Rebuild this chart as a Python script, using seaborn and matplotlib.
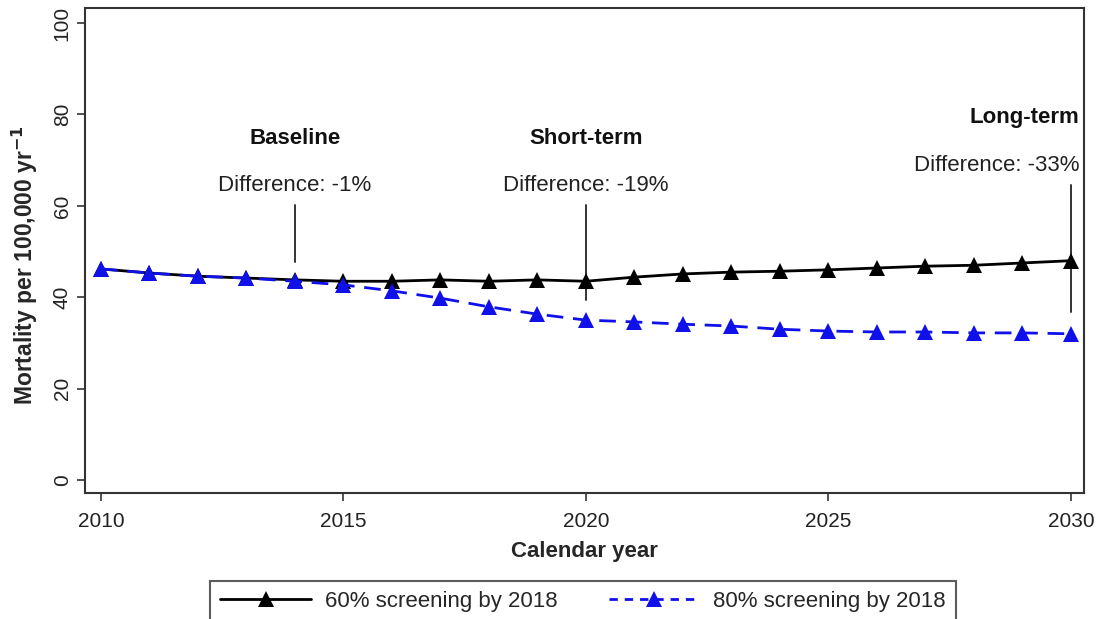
import matplotlib
matplotlib.use("Agg")
import matplotlib.pyplot as plt
import numpy as np
import pandas as pd
import seaborn as sns

years = list(range(2010, 2031))
screen_60 = [46.2, 45.3, 44.6, 44.2, 43.8, 43.5, 43.5, 43.8, 43.5, 43.8, 43.5,
             44.4, 45.1, 45.5, 45.7, 46.0, 46.4, 46.8, 47.0, 47.5, 48.0]
screen_80 = [46.2, 45.3, 44.6, 44.2, 43.5, 42.7, 41.4, 39.8, 37.9, 36.3, 35.0,
             34.6, 34.1, 33.7, 33.0, 32.6, 32.4, 32.4, 32.2, 32.2, 32.0]
series_names = ["60% screening by 2018", "80% screening by 2018"]
series_colors = ["black", "#1010e8"]

phase_titles = ["Baseline", "Short-term", "Long-term"]
phase_years = [2014, 2020, 2030]
phase_diffs = ["Difference: -1%", "Difference: -19%", "Difference: -33%"]

sns.set_theme(style="ticks")
plt.rcParams["font.family"] = ["Liberation Sans", "DejaVu Sans"]

df = pd.DataFrame({
    "year": years * 2,
    "mortality": screen_60 + screen_80,
    "scenario": [series_names[0]] * len(years) + [series_names[1]] * len(years),
})

fig = plt.figure(figsize=(10.98, 6.19), dpi=100)
ax = fig.add_axes([85 / 1098, 1 - 493 / 619, (1084 - 85) / 1098, (493 - 8) / 619])

sns.lineplot(data=df, x="year", y="mortality", hue="scenario", style="scenario",
             palette=series_colors, dashes=[(None, None), (6, 3.5)],
             markers=["^", "^"], markersize=11, markeredgewidth=0,
             linewidth=2, ax=ax, legend=False, zorder=3)

ax.set_xlim(2009.67, 2030.27)
ax.set_ylim(-2.84, 103.3)
ax.set_xticks([2010, 2015, 2020, 2025, 2030])
ax.set_yticks([0, 20, 40, 60, 80, 100])
ax.tick_params(axis="both", length=6, width=1.2, color="#333333",
               labelsize=15, labelcolor="#222222")
ax.tick_params(axis="x", pad=8)
for lbl in ax.get_yticklabels():
    lbl.set_rotation(90)
    lbl.set_va("center")
for sp in ax.spines.values():
    sp.set_visible(True)
    sp.set_color("#333333")
    sp.set_linewidth(1.5)

ax.set_xlabel("Calendar year", fontsize=16, fontweight="bold", labelpad=7)
ax.set_ylabel("Mortality per 100,000 yr$^{\\mathbf{-1}}$", fontsize=16.5,
              fontweight="bold")
ax.yaxis.set_label_coords(-0.045, 0.47)

# Phase annotations: bold title, difference text and a pointer line
title_pos = [(2014, 74.8), (2020, 74.8), (2029.05, 79.3)]
diff_pos = [(2014, 64.5), (2020, 64.5), (2028.47, 68.8)]
line_spans = [(60.2, 47.7), (60.2, 39.5), (64.5, 36.8)]
for t, yr, d, tp, dp, ls in zip(phase_titles, phase_years, phase_diffs,
                                title_pos, diff_pos, line_spans):
    ax.text(tp[0], tp[1], t, ha="center", va="center", fontsize=16,
            fontweight="bold", color="#111111")
    ax.text(dp[0], dp[1], d, ha="center", va="center", fontsize=16,
            color="#222222")
    ax.plot([yr, yr], [ls[0], ls[1]], color="#333333", linewidth=1.4, zorder=2)

handles = [
    plt.Line2D([], [], color=series_colors[0], linestyle="-", linewidth=2,
               marker="^", markersize=11, markeredgewidth=0),
    plt.Line2D([], [], color=series_colors[1], linestyle=(0, (3, 2.5)), linewidth=2,
               marker="^", markersize=11, markeredgewidth=0),
]
leg = fig.legend(handles, series_names, loc="center", ncol=2,
                 bbox_to_anchor=(583 / 1098, 1 - 601 / 619), frameon=True,
                 fancybox=False, fontsize=16, handlelength=4.1,
                 handletextpad=0.6, columnspacing=2.3, borderpad=0.45)
leg.get_frame().set_edgecolor("#333333")
leg.get_frame().set_linewidth(1.5)

fig.savefig("out.png", dpi=100)
